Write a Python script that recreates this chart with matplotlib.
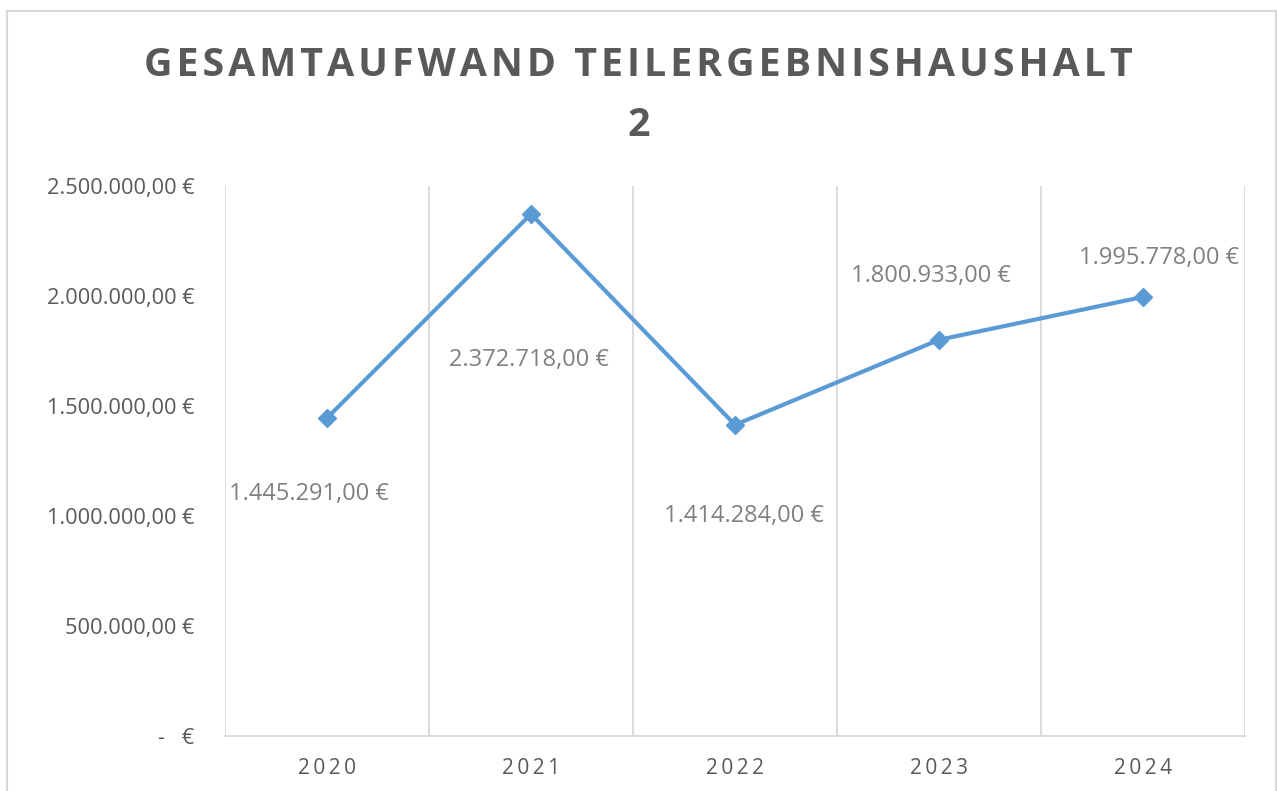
import matplotlib
matplotlib.use("Agg")
import matplotlib.pyplot as plt
from matplotlib.patches import Rectangle
from matplotlib.ticker import FuncFormatter

years = ["2020", "2021", "2022", "2023", "2024"]
values = [1445291.00, 2372718.00, 1414284.00, 1800933.00, 1995778.00]
yticks = [0, 500000, 1000000, 1500000, 2000000, 2500000]
title_lines = ["GESAMTAUFWAND TEILERGEBNISHAUSHALT", "2"]

# label offsets (pixels) relative to the point, as placed in the reference
label_offsets = [(-18, -76), (-2, -146), (9, -91), (-8, 64), (16, 39)]

W, H = 1277, 791
fig = plt.figure(figsize=(W / 100, H / 100), dpi=100)
fig.patch.set_facecolor("white")

# outer chart frame
fig.add_artist(Rectangle((7 / W, -0.05), (1276 - 7) / W, 1.05 - 11 / H,
                         transform=fig.transFigure, fill=False,
                         edgecolor="#d9d9d9", linewidth=1.5))

ax = fig.add_axes([225 / W, 1 - 736 / H, (1245 - 225) / W, (736 - 186) / H])
x = list(range(len(years)))
ax.plot(x, values, color="#5b9bd5", linewidth=3, marker="D", markersize=9,
        zorder=3, solid_capstyle="round")

def fmt_de(v):
    if v == 0:
        return "-   €"
    s = f"{v:,.2f}"
    s = s.replace(",", "X").replace(".", ",").replace("X", ".")
    return s + " €"

for xi, v, (dx, dy) in zip(x, values, label_offsets):
    ax.annotate(fmt_de(v), (xi, v), xytext=(dx, dy), textcoords="offset pixels",
                ha="center", va="center", fontsize=17, color="#808080",
                family="Open Sans")

ax.set_xlim(-0.5, len(years) - 0.5)
ax.set_ylim(0, 2500000)
ax.set_yticks(yticks)
ax.yaxis.set_major_formatter(FuncFormatter(lambda v, p: fmt_de(v)))
ax.set_xticks(x)
ax.set_xticklabels(["\u2009".join(y) for y in years])

for b in [i - 0.5 for i in range(len(years) + 1)]:
    ax.axvline(b, color="#d9d9d9", linewidth=1.3, zorder=1)

for s in ["top", "right", "left"]:
    ax.spines[s].set_visible(False)
ax.spines["bottom"].set_color("#d9d9d9")
ax.spines["bottom"].set_linewidth(1.3)
ax.tick_params(axis="both", length=0, colors="#595959")
ax.tick_params(axis="y", labelsize=15.7, pad=22)
ax.tick_params(axis="x", labelsize=15, pad=16)
for lab in ax.get_yticklabels() + ax.get_xticklabels():
    lab.set_family(["Open Sans", "DejaVu Sans"])

spaced = ["\u200a".join(line) for line in title_lines]
fig.text(0.5, 1 - 65 / H, spaced[0], ha="center", va="center", fontsize=28.4,
         fontweight="bold", color="#595959", family=["Open Sans", "DejaVu Sans"])
fig.text(0.5, 1 - 125 / H, spaced[1], ha="center", va="center", fontsize=28.4,
         fontweight="bold", color="#595959", family=["Open Sans", "DejaVu Sans"])

fig.savefig("out.png", dpi=100, facecolor="white")
